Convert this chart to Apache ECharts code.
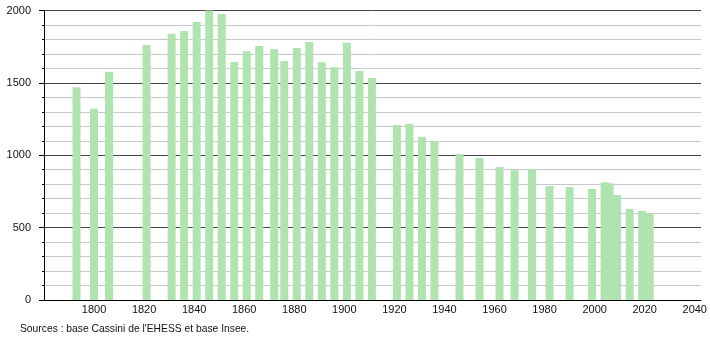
<!DOCTYPE html>
<html>
<head>
<meta charset="utf-8">
<script src="https://cdn.jsdelivr.net/npm/echarts@6/dist/echarts.min.js"></script>
<style>
  html, body { margin: 0; padding: 0; background: #fff; }
  #chart { width: 710px; height: 340px; }
</style>
</head>
<body>
<div id="chart"></div>
<script>
// census years and population
const years = [1793, 1800, 1806, 1821, 1831, 1836, 1841, 1846, 1851, 1856,
  1861, 1866, 1872, 1876, 1881, 1886, 1891, 1896, 1901, 1906,
  1911, 1921, 1926, 1931, 1936, 1946, 1954, 1962, 1968, 1975,
  1982, 1990, 1999, 2004, 2006, 2009, 2014, 2019, 2022];
const population = [1469, 1322, 1577, 1762, 1840, 1858, 1920, 2000, 1976, 1645,
  1718, 1755, 1733, 1651, 1741, 1782, 1642, 1608, 1778, 1582,
  1534, 1209, 1218, 1126, 1096, 1009, 981, 919, 896, 905,
  788, 781, 767, 813, 806, 725, 629, 615, 599];
const xTickLabels = [1800, 1820, 1840, 1860, 1880, 1900, 1920, 1940, 1960, 1980, 2000, 2020, 2040];
const yTickLabels = [0, 500, 1000, 1500, 2000];
const sourceText = "Sources : base Cassini de l'EHESS et base Insee.";

const font = "'Liberation Sans', Arial, sans-serif";
const chart = echarts.init(document.getElementById('chart'));

const option = {
  animation: false,
  grid: { left: 44, right: 9, top: 10.5, bottom: 40 },
  xAxis: {
    type: 'value',
    min: 1780,
    max: 2042.5,
    interval: 20,
    axisLine: { show: true, lineStyle: { color: '#000', width: 1 } },
    axisTick: { show: false },
    splitLine: { show: false },
    axisLabel: {
      color: '#111',
      fontFamily: font,
      fontSize: 11,
      margin: 4,
      showMinLabel: false,
      formatter: v => (xTickLabels.includes(v) ? String(v) : '')
    }
  },
  yAxis: {
    type: 'value',
    min: 0,
    max: 2000,
    interval: 500,
    axisLine: { show: true, lineStyle: { color: '#000', width: 1 } },
    axisTick: { show: true, length: 5, lineStyle: { color: '#000' } },
    minorTick: { show: true, splitNumber: 5, length: 2, lineStyle: { color: '#000' } },
    splitLine: { show: true, lineStyle: { color: '#444', width: 1 } },
    minorSplitLine: { show: true, lineStyle: { color: '#c8c8c8', width: 1 } },
    axisLabel: {
      color: '#111',
      fontFamily: font,
      fontSize: 11,
      margin: 13,
      formatter: v => (yTickLabels.includes(v) ? String(v) : '')
    }
  },
  series: [{
    type: 'bar',
    data: years.map((y, i) => [y, population[i]]),
    barWidth: 8,
    itemStyle: { color: '#afe3af' }
  }],
  graphic: [{
    type: 'text',
    left: 20,
    top: 324,
    style: { text: sourceText, fill: '#111', font: '10.3px ' + font }
  }]
};

chart.setOption(option);
</script>
</body>
</html>
